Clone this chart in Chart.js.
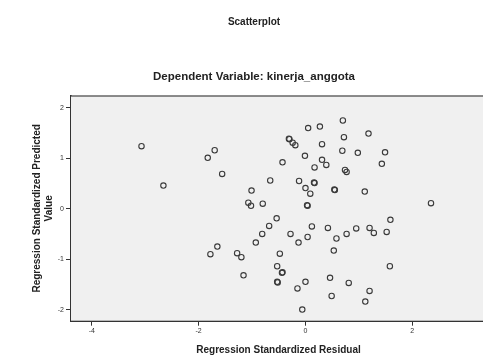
<!DOCTYPE html>
<html>
<head>
<meta charset="utf-8">
<script src="https://cdn.jsdelivr.net/npm/chart.js@4.4.1/dist/chart.umd.min.js"></script>
<style>
  html, body { margin: 0; padding: 0; background: #fff; overflow: hidden; }
  #wrap { width: 483px; height: 360px; overflow: hidden; position: relative; }
  canvas { display: block; }
</style>
</head>
<body>
<div id="wrap"><canvas id="c" width="508" height="360"></canvas></div>
<script>
// Regression Standardized Residual (x) and Regression Standardized Predicted Value (y)
const residual = [
  -3.07, -2.66, -1.83, -1.70, -1.56, -1.01, -1.07, -1.02, -0.80, -0.66,
  -0.54, -0.68, -0.43, 0.70, 0.05, 0.27, -0.31, -0.30, -0.24, -0.19,
  0.72, 1.18, 0.31, 0.69, 0.98, 1.49, 1.43, -0.01, 0.31, 0.39,
  0.17, 0.74, 0.77, -0.12, 0.16, 0.17, 0.00, 0.09, 0.54, 0.55,
  1.11, 0.03, 0.04, 2.35, 0.12, 0.42, 0.95, 1.20, 1.59, -0.81,
  -0.28, -0.13, 0.04, 0.58, 0.77, 1.28, 1.52, 0.53, -0.48, -0.53,
  -0.43, -0.44, -0.53, -0.52, 0.00, -0.15, 0.46, 0.81, 0.49, 1.20,
  1.12, 1.58, -0.06, -0.93, -1.65, -1.78, -1.28, -1.20, -1.16
];
const predicted = [
  1.24, 0.46, 1.01, 1.16, 0.69, 0.36, 0.12, 0.06, 0.10, 0.56,
  -0.19, -0.34, 0.92, 1.75, 1.60, 1.63, 1.39, 1.38, 1.31, 1.26,
  1.42, 1.49, 1.28, 1.15, 1.11, 1.12, 0.89, 1.05, 0.97, 0.87,
  0.82, 0.77, 0.73, 0.55, 0.52, 0.51, 0.41, 0.30, 0.38, 0.37,
  0.34, 0.07, 0.06, 0.11, -0.35, -0.38, -0.39, -0.38, -0.22, -0.50,
  -0.50, -0.67, -0.56, -0.59, -0.50, -0.48, -0.46, -0.83, -0.89, -1.14,
  -1.26, -1.27, -1.45, -1.46, -1.45, -1.58, -1.37, -1.47, -1.73, -1.63,
  -1.84, -1.14, -2.00, -0.67, -0.75, -0.90, -0.88, -0.96, -1.32
];
const xTicks = [-4, -2, 0, 2];
const yTicks = [-2, -1, 0, 1, 2];
const chartTitle = 'Scatterplot';
const chartSubtitle = 'Dependent Variable: kinerja_anggota';
const xTitle = 'Regression Standardized Residual';
const yTitle = ['Regression Standardized Predicted', 'Value'];

const points = residual.map((x, i) => ({ x: x, y: predicted[i] }));

const FONT = '"Liberation Sans", Arial, Helvetica, sans-serif';

const framePlugin = {
  id: 'frame',
  beforeDatasetsDraw(chart) {
    const { ctx, chartArea: a } = chart;
    ctx.save();
    ctx.fillStyle = '#f0f0f0';
    ctx.fillRect(a.left, a.top, a.right - a.left, a.bottom - a.top);
    ctx.strokeStyle = '#666';
    ctx.lineWidth = 1.5;
    ctx.beginPath();
    ctx.moveTo(a.left, a.top);
    ctx.lineTo(a.right + 10, a.top);
    ctx.stroke();
    ctx.restore();
  },
  afterDraw(chart) {
    const { ctx } = chart;
    ctx.save();
    ctx.fillStyle = '#222';
    ctx.textAlign = 'center';
    ctx.textBaseline = 'middle';
    ctx.font = 'bold 10px ' + FONT;
    ctx.fillText(chartTitle, 254, 22);
    ctx.font = 'bold 11.5px ' + FONT;
    ctx.fillText(chartSubtitle, 254, 77);
    ctx.restore();
  }
};

new Chart(document.getElementById('c'), {
  type: 'scatter',
  data: {
    datasets: [{
      data: points,
      pointRadius: 2.7,
      pointHoverRadius: 2.7,
      pointBorderWidth: 1.1,
      borderColor: '#3a3a3a',
      backgroundColor: 'rgba(0,0,0,0)'
    }]
  },
  options: {
    responsive: false,
    animation: false,
    devicePixelRatio: 1,
    layout: { padding: { top: 96, right: 22, bottom: 0, left: 0 } },
    plugins: {
      legend: { display: false },
      tooltip: { enabled: false },
      title: { display: false }
    },
    scales: {
      x: {
        type: 'linear',
        min: -4.39,
        max: 3.38,
        afterFit: s => { s.height = 39.3; },
        afterBuildTicks: s => { s.ticks = xTicks.map(v => ({ value: v })); },
        grid: { display: true, drawOnChartArea: false, drawTicks: true, tickLength: 5, color: '#333', lineWidth: 1 },
        border: { display: true, color: '#333', width: 2 },
        ticks: { font: { family: FONT, size: 7 }, color: '#333', padding: 1, maxRotation: 0, autoSkip: false },
        title: { display: true, text: xTitle, font: { family: FONT, size: 10, weight: 'bold' }, color: '#222', padding: { top: 0, bottom: 4 } }
      },
      y: {
        type: 'linear',
        min: -2.22,
        max: 2.236,
        afterFit: s => { s.width = 71; },
        afterBuildTicks: s => { s.ticks = yTicks.map(v => ({ value: v })); },
        grid: { display: true, drawOnChartArea: false, drawTicks: true, tickLength: 5, color: '#333', lineWidth: 1 },
        border: { display: true, color: '#333', width: 2 },
        ticks: { font: { family: FONT, size: 7 }, color: '#333', padding: 2, autoSkip: false },
        title: { display: true, text: yTitle, font: { family: FONT, size: 10, weight: 'bold', lineHeight: 1.2 }, color: '#222', padding: { top: 31, bottom: 0 } }
      }
    }
  },
  plugins: [framePlugin]
});
</script>
</body>
</html>
